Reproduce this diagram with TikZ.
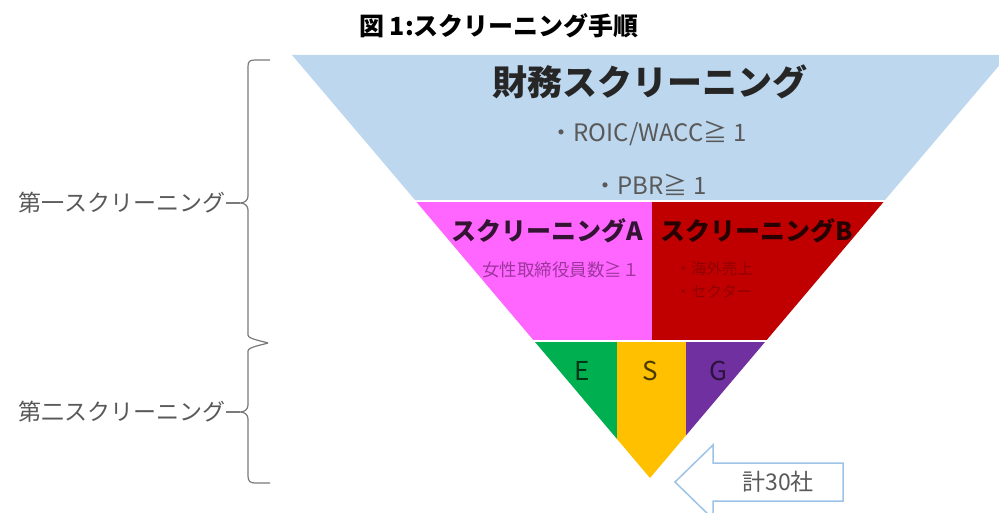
\documentclass[tikz,border=0pt]{standalone}
\usepackage{fontspec}
\setmainfont{Noto Sans CJK JP}
\newfontfamily\cjk{Noto Sans CJK JP}
\definecolor{bandblue}{HTML}{BDD7EE}
\definecolor{bandpink}{HTML}{FF66FF}
\definecolor{bandred}{HTML}{C00000}
\definecolor{esgG}{HTML}{00B050}
\definecolor{esgS}{HTML}{FFC000}
\definecolor{esgP}{HTML}{7030A0}
\definecolor{arrowline}{HTML}{9DC3E6}
\definecolor{labgray}{HTML}{595959}
\tikzset{
  fs/.style={font=\cjk\fontsize{#1}{#1}\selectfont},
  bracestyle/.style={draw=labgray!80, line width=1.2pt, line join=round},
  sidelabel/.style={fs=23, text=labgray, anchor=east, inner sep=0pt},
}
\begin{document}
\begin{tikzpicture}[x=1pt,y=-1pt]
\useasboundingbox (0,0) rectangle (999,513);
\clip (0,0) rectangle (999,513);
% title
\node[font=\cjk\bfseries\fontsize{25}{25}\selectfont] (title) at (499,26) {図 1:スクリーニング手順};
% bands
\fill[bandblue] (292,55) -- (1008,55) -- (885,200) -- (415,200) -- cycle;
\fill[bandpink] (416.5,202) -- (652,202) -- (652,340) -- (533.3,340) -- cycle;
\fill[bandred] (652,202) -- (883.5,202) -- (766.7,340) -- (652,340) -- cycle;
\fill[esgG] (535,342) -- (617,342) -- (617,439) -- cycle;
\fill[esgS] (617,342) -- (686,342) -- (686,435.4) -- (650,478) -- (617,439) -- cycle;
\fill[esgP] (686,342) -- (765,342) -- (686,435.4) -- cycle;
% band texts
\node[font=\cjk\bfseries\fontsize{35}{35}\selectfont, text=black!85] (fin) at (650,82) {財務スクリーニング};
\node[fs=24, text=labgray] (roic) at (648,133) {・ROIC/WACC≧ 1};
\node[fs=24, text=labgray] (pbr) at (650,185) {・PBR≧ 1};
\node[font=\cjk\bfseries\fontsize{25}{25}\selectfont, text=black!80!bandpink] (scrA) at (547,231) {スクリーニングA};
\node[font=\cjk\bfseries\fontsize{25}{25}\selectfont, text=black!80!bandred] (scrB) at (757,231) {スクリーニングB};
\node[fs=17.5, text=black!35!bandpink!80!violet] (women) at (561,270) {女性取締役員数≧１};
\node[fs=15.5, text=black!25!bandred, align=left, anchor=west] (kaigai) at (672,280) {・海外売上\\[7pt]・セクター};
\node[fs=26, text=black!70!esgG] (E) at (582,371) {E};
\node[fs=26, text=black!70!esgS] (S) at (650,371) {S};
\node[fs=26, text=black!60!esgP] (G) at (718,371) {G};
% arrow
\draw[arrowline, line width=1.5pt, fill=white, line join=miter]
  (675,482) -- (713,445) -- (713,463) -- (843,463) -- (843,501) -- (713,501) -- (713,519) -- cycle;
\node[fs=23, text=labgray] (total) at (778,482) {計30社};
% side labels
\node[sidelabel] (first) at (226,203) {第一スクリーニング};
\node[sidelabel] (second) at (226,412) {第二スクリーニング};
\coordinate (tip1) at (240,203);
\coordinate (tip2) at (240,412);
\draw[bracestyle] (270,60) -- (255,60) .. controls (249,60) and (248,62) .. (248,67)
  -- (248,196) .. controls (248,200) and (245,203) .. (tip1)
  .. controls (245,203) and (248,206) .. (248,210)
  -- (248,335) .. controls (248,339) and (262,341) .. (268,343);
\draw[bracestyle] (first.east) -- (tip1);
\draw[bracestyle] (268,343) .. controls (262,345) and (248,347) .. (248,351)
  -- (248,405) .. controls (248,409) and (245,412) .. (tip2)
  .. controls (245,412) and (248,415) .. (248,419)
  -- (248,476) .. controls (248,481) and (250,483) .. (255,483) -- (270,483);
\draw[bracestyle] (second.east) -- (tip2);
% white separators
\draw[white, line width=1.5pt] (380,201) -- (900,201);
\draw[white, line width=1.5pt] (520,341) -- (780,341);
\end{tikzpicture}
\end{document}
